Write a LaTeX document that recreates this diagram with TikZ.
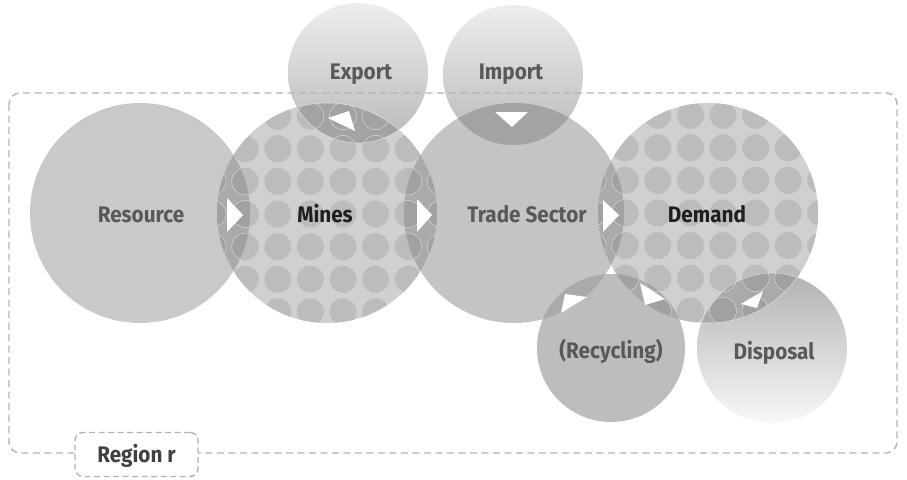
\documentclass[tikz,border=0pt]{standalone}
\usepackage{fontspec}
\setmainfont{Fira Sans}[FakeStretch=0.92]
\definecolor{resC}{HTML}{C8C9CB}
\definecolor{minesC}{HTML}{CFD0D2}
\definecolor{dotC}{HTML}{BBBCBE}
\definecolor{tradeC}{HTML}{C3C4C6}
\definecolor{recC}{HTML}{BCBDBF}
\definecolor{expTop}{HTML}{EDEDEE}
\definecolor{expBot}{HTML}{B8B9BB}
\definecolor{disTop}{HTML}{B1B2B4}
\definecolor{disBot}{HTML}{F8F8F8}
\definecolor{lensC}{HTML}{A9AAAC}
\definecolor{lensDot}{HTML}{A0A1A3}
\definecolor{lensE}{HTML}{A2A3A5}
\definecolor{regC}{HTML}{B2B3B5}
\definecolor{txtC}{HTML}{58595B}
\definecolor{txtD}{HTML}{1F1F21}
\definecolor{txtR}{HTML}{404042}
\newcommand\dotgrid[3]{%
  \foreach \i in {-4,...,4}{\foreach \j in {-4,...,4}{%
    \fill[#3] ({#1+\i*32.6},{#2+\j*32.6}) circle[radius=13.5pt];}}}
\newcommand\dotrings[2]{%
  \foreach \i in {-4,...,4}{\foreach \j in {-4,...,4}{%
    \draw[white, line width=0.45pt, opacity=0.6] ({#1+\i*32.6},{#2+\j*32.6}) circle[radius=13.5pt];}}}
\begin{document}
\begin{tikzpicture}[x=1pt,y=-1pt,
  lbl/.style={font=\bfseries\fontsize{22.5}{26}\selectfont, text=txtC, anchor=base, inner sep=0pt},
  lbldark/.style={lbl, text=txtD},
  tri/.style={fill=white},
  edgeline/.style={white, line width=0.5pt, opacity=0.6},
  regionline/.style={draw=regC, line width=1.4pt, dash pattern=on 7pt off 4.5pt, rounded corners=11pt},
  regbox/.style={draw=regC, fill=white, line width=1.4pt, dash pattern=on 6pt off 3.5pt, rounded corners=8pt, minimum width=123pt, minimum height=44pt, inner sep=0pt}
  ]
\useasboundingbox (0,0) rectangle (907,479);
\coordinate (R) at (140,213);
\coordinate (M) at (327,213);
\coordinate (T) at (514,213);
\coordinate (D) at (708,213);
\coordinate (E) at (358,73);
\coordinate (I) at (513,75);
\coordinate (Y) at (611,348);
\coordinate (P) at (772,348);
% base circles
\fill[resC] (R) circle[radius=110pt];
\fill[minesC] (M) circle[radius=110pt];
\begin{scope}\clip (M) circle[radius=110pt]; \dotgrid{343}{214}{dotC}\end{scope}
\fill[tradeC] (T) circle[radius=110pt];
\fill[minesC] (D) circle[radius=110pt];
\begin{scope}\clip (D) circle[radius=110pt]; \dotgrid{723}{213}{dotC}\end{scope}
\shade[top color=expTop, bottom color=expBot] (E) circle[radius=70pt];
\shade[top color=expTop, bottom color=expBot] (I) circle[radius=70pt];
\fill[recC] (Y) circle[radius=74pt];
\shade[top color=disTop, bottom color=disBot] (P) circle[radius=75pt];
% lenses
\begin{scope}\clip (R) circle[radius=110pt]; \clip (M) circle[radius=110pt];
  \fill[lensC] (M) circle[radius=110pt]; \dotgrid{343}{214}{lensDot} \dotrings{343}{214}\end{scope}
\begin{scope}\clip (T) circle[radius=110pt]; \clip (M) circle[radius=110pt];
  \fill[lensC] (M) circle[radius=110pt]; \dotgrid{343}{214}{lensDot} \dotrings{343}{214}\end{scope}
\begin{scope}\clip (T) circle[radius=110pt]; \clip (D) circle[radius=110pt];
  \fill[lensC] (D) circle[radius=110pt]; \dotgrid{723}{213}{lensDot} \dotrings{723}{213}\end{scope}
\begin{scope}\clip (E) circle[radius=70pt]; \clip (M) circle[radius=110pt];
  \fill[lensE] (M) circle[radius=110pt]; \dotrings{343}{214}\end{scope}
\begin{scope}\clip (I) circle[radius=70pt]; \clip (T) circle[radius=110pt];
  \fill[lensE] (T) circle[radius=110pt];\end{scope}
\begin{scope}\clip (Y) circle[radius=74pt]; \clip (T) circle[radius=110pt];
  \fill[lensC] (T) circle[radius=110pt];\end{scope}
\begin{scope}\clip (Y) circle[radius=74pt]; \clip (D) circle[radius=110pt];
  \fill[lensC] (D) circle[radius=110pt]; \dotgrid{723}{213}{lensDot} \dotrings{723}{213}\end{scope}
\begin{scope}\clip (P) circle[radius=75pt]; \clip (D) circle[radius=110pt];
  \fill[lensC] (D) circle[radius=110pt]; \dotgrid{723}{213}{lensDot} \dotrings{723}{213}\end{scope}
% thin white lens edges
\begin{scope}\clip (M) circle[radius=110pt]; \draw[edgeline] (E) circle[radius=70pt];\end{scope}
\begin{scope}\clip (E) circle[radius=70pt]; \draw[edgeline] (M) circle[radius=110pt];\end{scope}
\begin{scope}\clip (D) circle[radius=110pt]; \draw[edgeline] (P) circle[radius=75pt];\end{scope}
\begin{scope}\clip (P) circle[radius=75pt]; \draw[edgeline] (D) circle[radius=110pt];\end{scope}
% white flow triangles
\fill[tri] (227,198) -- (227,232) -- (243,215) -- cycle;
\fill[tri] (417,199) -- (417,232) -- (432,215) -- cycle;
\fill[tri] (603,200) -- (603,232) -- (619,215) -- cycle;
\fill[tri] (328,118) -- (349,111) -- (355,131) -- cycle;
\fill[tri] (495,112) -- (528,112) -- (512,127) -- cycle;
\fill[tri] (565,294) -- (587,297) -- (561,313) -- cycle;
\fill[tri] (640,283) -- (665,299) -- (645,305) -- cycle;
\fill[tri] (741,304) -- (763,291) -- (757,308) -- cycle;
% labels
\node[lbl] (resource) at (141,222) {Resource};
\node[lbldark] (mines) at (325,222) {Mines};
\node[lbl] (trade) at (527,222) {Trade Sector};
\node[lbldark] (demand) at (707,222) {Demand};
\node[lbl] (export) at (361,79) {Export};
\node[lbl] (import) at (511,79) {Import};
\node[lbl] (recycling) at (611,358) {(Recycling)};
\node[lbl] (disposal) at (774,359) {Disposal};
% region
\draw[regionline] (9,93) rectangle (897,453);
\node[regbox] (regbox) at (136.5,454.5) {};
\node[lbl, text=txtR] (regtext) at (136.5,462) {Region r};
\end{tikzpicture}
\end{document}
